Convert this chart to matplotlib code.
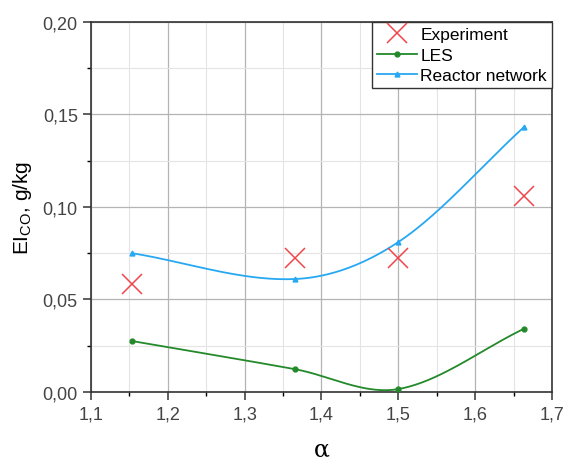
import matplotlib.pyplot as plt
import matplotlib.ticker as mticker
import numpy as np

plt.rcParams['font.family'] = ['Liberation Sans', 'DejaVu Sans']

# data
alpha = [1.153, 1.365, 1.5, 1.663]
ei_exp = [0.0585, 0.0725, 0.0725, 0.106]
ei_les = [0.0275, 0.0123, 0.0015, 0.034]
ei_rn = [0.075, 0.061, 0.081, 0.143]

xticks = [1.1, 1.2, 1.3, 1.4, 1.5, 1.6, 1.7]
yticks = [0.0, 0.05, 0.10, 0.15, 0.20]


def smooth(x, y, n=60):
    # cubic Hermite through the points, tangents from neighbouring points
    x = np.asarray(x, float)
    y = np.asarray(y, float)
    k = len(x)
    m = np.zeros(k)
    m[0] = (y[1] - y[0]) / (x[1] - x[0])
    m[-1] = (y[-1] - y[-2]) / (x[-1] - x[-2])
    for i in range(1, k - 1):
        m[i] = (y[i + 1] - y[i - 1]) / (x[i + 1] - x[i - 1])
    xs_all, ys_all = [], []
    for i in range(k - 1):
        h = x[i + 1] - x[i]
        t = np.linspace(0, 1, n)
        h00 = 2 * t**3 - 3 * t**2 + 1
        h10 = t**3 - 2 * t**2 + t
        h01 = -2 * t**3 + 3 * t**2
        h11 = t**3 - t**2
        xs_all.append(x[i] + t * h)
        ys_all.append(h00 * y[i] + h10 * h * m[i] + h01 * y[i + 1] + h11 * h * m[i + 1])
    return np.concatenate(xs_all), np.concatenate(ys_all)


fig = plt.figure(figsize=(5.65, 4.6), dpi=100)
ax = fig.add_axes([0.161, 0.146, 0.816, 0.804])

c_exp = '#f0464b'
c_les = '#23892a'
c_rn = '#27a8f2'

ax.plot(alpha, ei_exp, 'x', color=c_exp, markersize=14, markeredgewidth=1.1,
        label='Experiment', zorder=4)

xs, ys = smooth(alpha, ei_les)
ax.plot(xs, ys, color=c_les, lw=1.3, zorder=3)
ax.plot(alpha, ei_les, 'o', color=c_les, markersize=3.5, zorder=3)
ax.plot([], [], '-o', color=c_les, lw=1.3, markersize=3.5, label='LES')

xs, ys = smooth(alpha, ei_rn)
ax.plot(xs, ys, color=c_rn, lw=1.3, zorder=3)
ax.plot(alpha, ei_rn, '^', color=c_rn, markersize=3.5, zorder=3)
ax.plot([], [], '-^', color=c_rn, lw=1.3, markersize=3.5, label='Reactor network')

ax.set_xlim(1.1, 1.7)
ax.set_ylim(0, 0.20)
ax.set_xticks(xticks)
ax.set_yticks(yticks)
ax.xaxis.set_minor_locator(mticker.MultipleLocator(0.05))
ax.yaxis.set_minor_locator(mticker.MultipleLocator(0.025))
ax.xaxis.set_major_formatter(mticker.FuncFormatter(lambda v, p: f'{v:.1f}'.replace('.', ',')))
ax.yaxis.set_major_formatter(mticker.FuncFormatter(lambda v, p: f'{v:.2f}'.replace('.', ',')))

ax.grid(True, which='major', color='#b4b4b4', lw=0.9)
ax.grid(True, which='minor', color='#e4e4e4', lw=0.8)
ax.set_axisbelow(True)

ax.tick_params(which='major', direction='out', length=6, width=1.1, labelsize=13, colors='#333333')
ax.tick_params(which='minor', direction='out', length=3, width=1.0)
ax.tick_params(axis='both', labelcolor='#444444')
for s in ax.spines.values():
    s.set_linewidth(1.2)
    s.set_color('#333333')

ax.set_xlabel('α', fontsize=17, family=['DejaVu Serif'], labelpad=11)
ax.set_ylabel(r'EI$_{\mathregular{CO}}$, g/kg', fontsize=15, labelpad=6)

leg = ax.legend(loc='upper right', fontsize=12.5, frameon=True, fancybox=False,
                edgecolor='#333333', framealpha=1, borderaxespad=0,
                handlelength=2.3, handletextpad=0.2, borderpad=0.3, labelspacing=0.3)
leg.get_frame().set_linewidth(1.0)

fig.savefig('out.png', dpi=100)
